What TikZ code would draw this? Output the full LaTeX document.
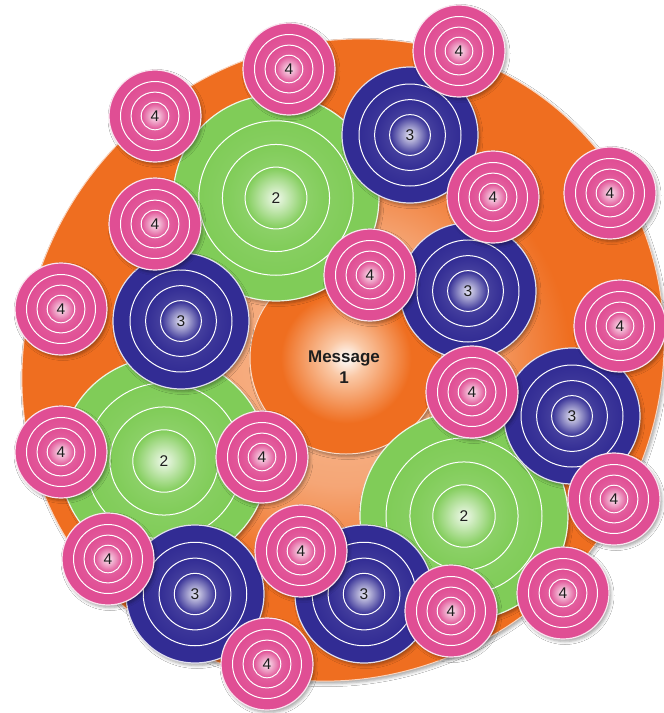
\documentclass[tikz,border=0pt]{standalone}
\usepackage{fontspec}
\setmainfont{Liberation Sans}
\usetikzlibrary{shadows.blur}
\definecolor{orangec}{RGB}{239,110,32}
\definecolor{peach}{RGB}{245,166,118}
\definecolor{peachlight}{RGB}{248,188,148}
\definecolor{msglight}{RGB}{250,200,165}
\definecolor{pinkc}{RGB}{224,78,148}
\definecolor{bluec}{RGB}{50,44,148}
\definecolor{greenc}{RGB}{128,204,88}
\definecolor{textc}{RGB}{30,30,30}
\pgfdeclareradialshading{bgshade}{\pgfpointorigin}{color(0bp)=(peachlight); color(9bp)=(peach); color(16bp)=(orangec); color(25bp)=(orangec); color(50bp)=(orangec)}
\pgfdeclareradialshading{msgshade}{\pgfpointorigin}{color(0bp)=(white); color(5bp)=(msglight); color(17bp)=(orangec); color(25bp)=(orangec); color(50bp)=(orangec)}
\tikzset{
  numlabel/.style={font=\fontsize{15.5}{15.5}\selectfont, text=textc, inner sep=0pt},
  msgtext/.style={font=\bfseries\fontsize{17}{21}\selectfont, text=textc, align=center, inner sep=0pt},
  softshadow/.style={blur shadow={shadow xshift=2pt, shadow yshift=-2.5pt, shadow blur radius=3pt, shadow opacity=35}},
  ringline/.style={draw=white, line width=1pt},
  pics/target/.style n args={3}{code={
    \fill[#1, draw=white!85!#1, line width=1.2pt, softshadow] (0,0) circle ({#2pt});
    \shadedraw[ringline, inner color=#1!84!white, outer color=#1] (0,0) circle ({0.75*#2pt});
    \shadedraw[ringline, inner color=#1!78!white, outer color=#1] (0,0) circle ({0.52*#2pt});
    \shadedraw[ringline, inner color=white!88!#1, outer color=#1] (0,0) circle ({0.30*#2pt});
    \node[numlabel] (-label) at (0,0) {#3};
  }}
}
\begin{document}
\begin{tikzpicture}[x=1pt,y=-1pt]
\useasboundingbox (0,0) rectangle (664,713);
\clip (0,0) rectangle (664,713);
\fill[white] (0,0) rectangle (664,713);
% big orange field
\shadedraw[shading=bgshade, draw=white!70!orangec, line width=1pt, softshadow, rotate around={45:(343,360)}] (343,360) ellipse [x radius=330pt, y radius=312pt];
% message
\node[circle, minimum size=192pt, inner sep=0pt, shade, shading=msgshade, draw=white!75!orangec, line width=1pt, softshadow] (msgdisc) at (346,358) {};
\node[msgtext] (msg) at (344,367) {Message\\1};
% level 2
\pic (g1) at (276,198) {target={greenc}{103}{2}};
\pic (g2) at (164,461) {target={greenc}{104}{2}};
\pic (g3) at (464,516) {target={greenc}{104}{2}};
% level 3
\pic (b1) at (410,135) {target={bluec}{68}{3}};
\pic (b2) at (181,321) {target={bluec}{68}{3}};
\pic (b3) at (468,291) {target={bluec}{68}{3}};
\pic (b4) at (572,416) {target={bluec}{68}{3}};
\pic (b5) at (195,594) {target={bluec}{69}{3}};
\pic (b6) at (364,594) {target={bluec}{69}{3}};
% level 4
\pic (p1) at (155,116) {target={pinkc}{46}{4}};
\pic (p2) at (289,69) {target={pinkc}{46}{4}};
\pic (p3) at (459,51) {target={pinkc}{46}{4}};
\pic (p4) at (155,224) {target={pinkc}{46}{4}};
\pic (p5) at (61,309) {target={pinkc}{46}{4}};
\pic (p6) at (370,275) {target={pinkc}{46}{4}};
\pic (p7) at (493,197) {target={pinkc}{46}{4}};
\pic (p8) at (610,193) {target={pinkc}{46}{4}};
\pic (p9) at (620,326) {target={pinkc}{46}{4}};
\pic (p10) at (472,392) {target={pinkc}{46}{4}};
\pic (p11) at (61,452) {target={pinkc}{46}{4}};
\pic (p12) at (262,457) {target={pinkc}{46}{4}};
\pic (p13) at (108,559) {target={pinkc}{46}{4}};
\pic (p14) at (301,551) {target={pinkc}{46}{4}};
\pic (p15) at (451,611) {target={pinkc}{46}{4}};
\pic (p16) at (563,593) {target={pinkc}{46}{4}};
\pic (p17) at (614,499) {target={pinkc}{46}{4}};
\pic (p18) at (267,664) {target={pinkc}{46}{4}};
\end{tikzpicture}
\end{document}
